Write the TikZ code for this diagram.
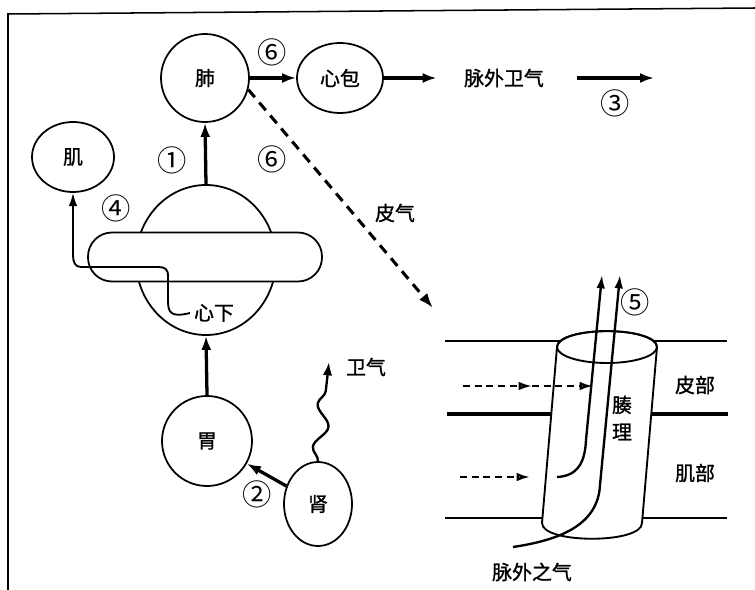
\documentclass[tikz,border=0pt]{standalone}
\usepackage{fontspec}
\setmainfont{Noto Sans CJK SC}[AutoFakeBold=1.2]
\usetikzlibrary{shapes.geometric,arrows.meta,decorations.pathmorphing}

\begin{document}
\begin{tikzpicture}[x=0.03cm, y=-0.03cm,
            every node/.style={font=\fontsize{17}{20}\selectfont\bfseries},
            num/.style={font=\fontsize{25}{25}\selectfont},
            rond/.style={circle, draw, line width=1.5pt, fill=white},
            ovale/.style={ellipse, draw, line width=1.5pt, fill=white},
            fleche/.style={line width=2.8pt, -{Latex[length=0.42cm,width=0.3cm]}},
            longue/.style={line width=2pt, -{Latex[length=0.4cm,width=0.26cm]}},
            creux/.style={line width=2pt, dash pattern=on 6pt off 4pt, -{Latex[open,length=0.4cm,width=0.26cm]}},
        ]
        \useasboundingbox (0,0) rectangle (755,590);
        \draw[line width=1.3pt] (8,590) -- (8,14) -- (755,8);
        % organes
        \node[rond, minimum size=2.64cm] (fei) at (205,78) {肺};
        \node[ovale, minimum width=2.58cm, minimum height=2.1cm] (xinbao) at (340,78) {心包};
        \node (maiwai) at (504,78) {脉外卫气};
        \coordinate (waiqi) at (654,78);
        \node[ovale, minimum width=2.46cm, minimum height=2.1cm] (ji) at (73,157) {肌};
        \node[ovale, minimum width=4.2cm, minimum height=4.5cm] (xinxia) at (206,260) {};
        \node[draw, line width=1.5pt, fill=white, rounded corners=0.72cm,
              minimum width=7.02cm, minimum height=1.47cm] (ge) at (205,257) {};
        \node (xiaL) at (214,313) {心下};
        \node[rond, minimum size=2.7cm] (wei) at (207,441) {胃};
        \node[ovale, minimum width=2.04cm, minimum height=2.52cm] (shen) at (318,504) {肾};
        \node (weiqi) at (366,367) {卫气};
        \coordinate (wq) at (329,362);
        \coordinate (pq) at (433,308);
        \node (piqi) at (395,213) {皮气};
        \node[num] (six1) at (272,52) {⑥};
        \node[num] (six2) at (272,159) {⑥};
        \node[num] (un) at (172,160) {①};
        \node[num] (quatre) at (116,208) {④};
        \node[num] (deux) at (257,494) {②};
        \node[num] (trois) at (615,103) {③};
        \node[num] (cinq) at (635,302) {⑤};

        \draw[fleche] (fei) -- (xinbao);
        \draw[fleche, shorten >=0.7cm] (xinbao) -- (maiwai);
        \draw[fleche, shorten <=0.87cm] (maiwai) -- (waiqi);
        \draw[fleche] (xinxia.north) -- (fei.south);
        \draw[fleche] (wei.north) -- (xinxia.south);
        \draw[fleche] (shen) -- (wei);
        \draw[line width=2.6pt, dash pattern=on 8.5pt off 6pt,
              -{Latex[open,length=0.45cm,width=0.32cm]}] (fei.-15) -- (pq);
        \draw[line width=2pt, -{Latex[length=0.4cm,width=0.28cm]}, decorate,
              decoration={snake, segment length=1.3cm, amplitude=0.2cm, post length=0.45cm}] (shen.north) -- (wq);
        \draw[line width=1.6pt, -{Latex[length=0.4cm,width=0.26cm]}] (xiaL.west)
            .. controls (170,318) and (168,312) .. (168,300) -- (168,276)
            .. controls (168,269) and (165,267) .. (158,267) -- (81,267)
            .. controls (75,267) and (73,262) .. (73,255) -- (ji.south);

        %腠理
        \draw[line width=1.5pt] (445,341) -- (727,341);
        \draw[line width=4pt] (447,414) -- (728,414);
        \draw[line width=1.5pt] (445,518) -- (727,518);
        \draw[line width=1.6pt, fill=white] (557,347) -- (542,523)
            .. controls (542,544) and (642,544) .. (642,523) -- (657,347)
            .. controls (657,326) and (557,326) .. (557,347) -- cycle;
        \draw[line width=1.6pt] (607,347) ellipse [x radius=1.5cm, y radius=0.48cm];
        \node (pibu) at (695,385) {皮部};
        \node (jibu) at (695,473) {肌部};
        \node[align=center, font=\fontsize{17}{23}\selectfont\bfseries] (couli) at (622,418) {腠\\理};
        \node (maiwai2) at (532,572) {脉外之气};
        \coordinate (ja) at (557,477);
        \coordinate (jb) at (513,547);
        \coordinate (ta) at (602,275);
        \coordinate (tb) at (620,275);
        \draw[longue] (ja) .. controls (578,476) and (585,462) .. (586,440) -- (ta);
        \draw[longue] (jb) .. controls (560,540) and (598,525) .. (600,485) -- (tb);
        \coordinate (pa) at (463,386);
        \coordinate (pb) at (532,386);
        \coordinate (pc) at (593,386);
        \coordinate (ma) at (460,477);
        \coordinate (mb) at (530,477);
        \draw[creux] (pa) -- (pb);
        \draw[creux] (pb) -- (pc);
        \draw[creux] (ma) -- (mb);
    \end{tikzpicture}
\end{document}
